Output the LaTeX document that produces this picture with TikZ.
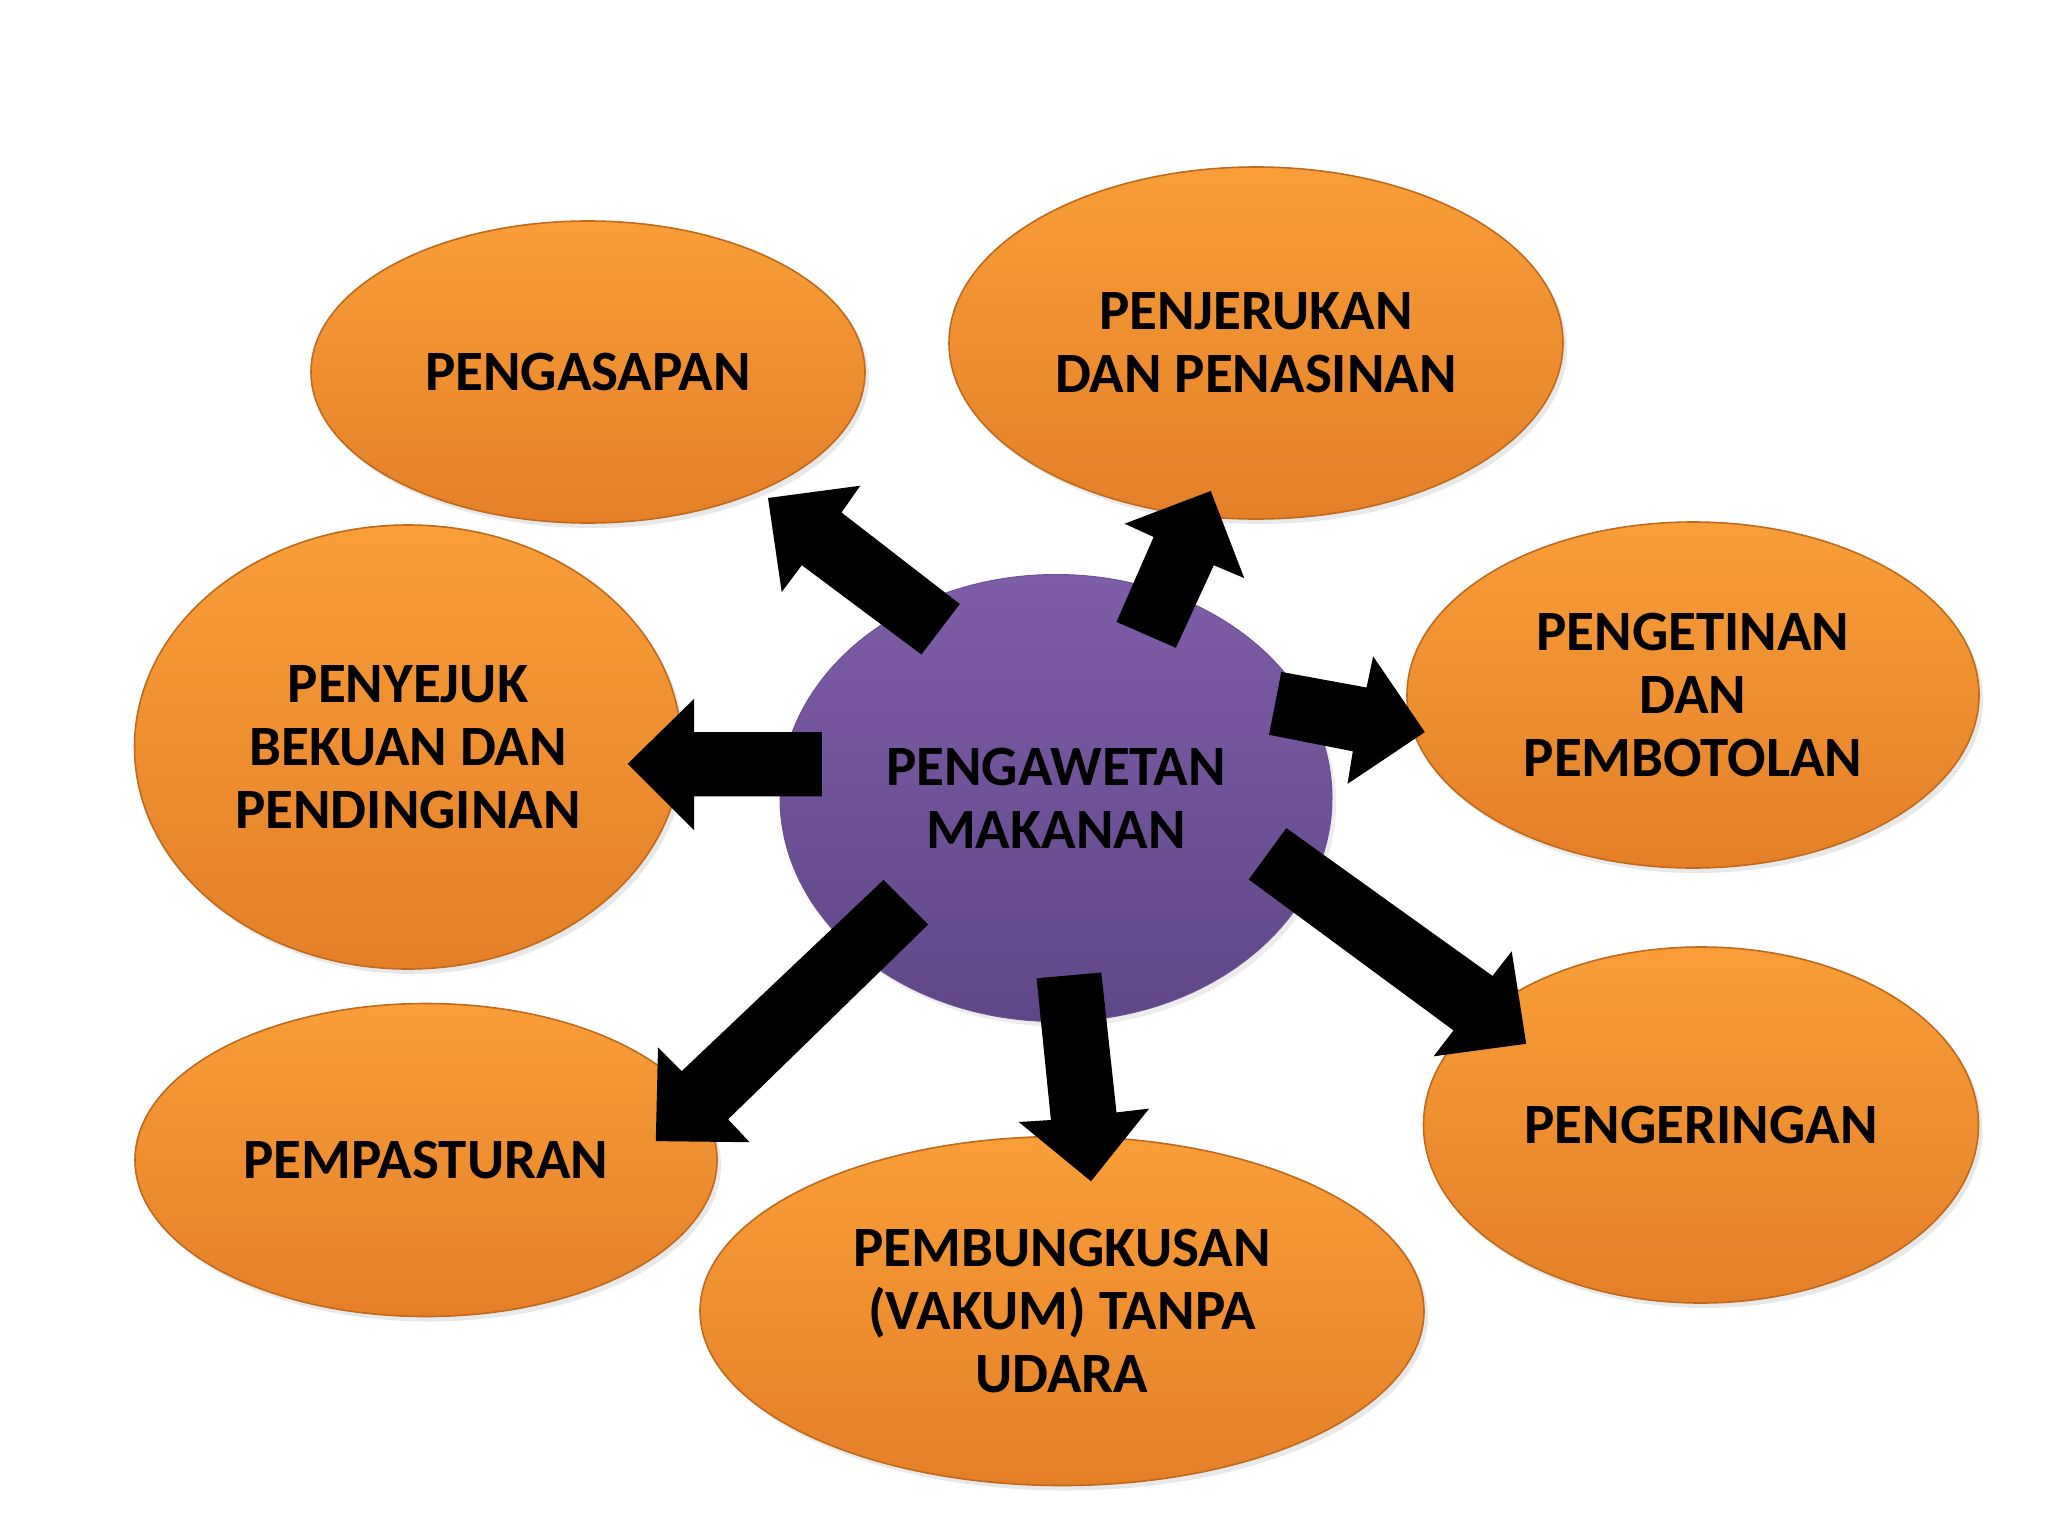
\documentclass[tikz,border=0pt]{standalone}
\usepackage{fontspec}
\setmainfont{Carlito}
\usetikzlibrary{shapes.geometric,shadows}
\definecolor{orTop}{HTML}{F99E38}
\definecolor{orBot}{HTML}{E47F28}
\definecolor{orEdge}{HTML}{C06A1E}
\definecolor{puTop}{HTML}{7F5DA8}
\definecolor{puBot}{HTML}{5E4787}
\definecolor{puEdge}{HTML}{6A5296}
\tikzset{
  blob/.style={ellipse, inner sep=0pt, top color=orTop, bottom color=orBot, draw=orEdge, line width=1.6pt,
    align=center, font=\fontsize{57}{63}\selectfont\bfseries,
    drop shadow={opacity=0.18, shadow xshift=4pt, shadow yshift=-5pt}},
  hub/.style={ellipse, inner sep=0pt, top color=puTop, bottom color=puBot, draw=puEdge, line width=1pt,
    align=center, font=\fontsize{57}{63}\selectfont\bfseries,
    drop shadow={opacity=0.15, shadow xshift=4pt, shadow yshift=-5pt}},
  blockarrow/.style={fill=black, draw=none}
}
\begin{document}
\begin{tikzpicture}[x=1pt,y=-1pt]
\useasboundingbox (0,0) rectangle (2048,1536);
\fill[white] (0,0) rectangle (2048,1536);

\node[blob, minimum width=554, minimum height=302] (asap) at (588,372) {PENGASAPAN};
\node[blob, minimum width=614, minimum height=352] (jeruk) at (1256,343) {PENJERUKAN\\DAN PENASINAN};
\node[blob, minimum width=572, minimum height=346] (tin) at (1693,695) {PENGETINAN\\DAN\\PEMBOTOLAN};
\node[blob, minimum width=555, minimum height=356] (kering) at (1701,1125) {PENGERINGAN};
\node[blob, minimum width=724, minimum height=349] (bungkus) at (1062,1311) {PEMBUNGKUSAN\\(VAKUM) TANPA\\UDARA};
\node[blob, minimum width=582, minimum height=313] (pastur) at (426,1160) {PEMPASTURAN};
\node[blob, minimum width=547, minimum height=444] (sejuk) at (408,747) {PENYEJUK\\BEKUAN DAN\\PENDINGINAN};
\node[hub, minimum width=552, minimum height=447] (awet) at (1056,798) {PENGAWETAN\\MAKANAN};

% block arrows
\fill[blockarrow] (959.8,604) -- (841.5,512.5) -- (860.3,485.7) -- (768,498) -- (781.7,592) -- (801.8,565.2) -- (921.4,654.5) -- cycle;
\fill[blockarrow] (1116.5,621.9) -- (1153.6,537) -- (1124.6,523.7) -- (1210.7,491) -- (1244.2,578.1) -- (1213.8,565.2) -- (1175.9,647.8) -- cycle;
\fill[blockarrow] (1281.3,671.9) -- (1366.6,687.5) -- (1373.1,656.3) -- (1424.8,732.1) -- (1347.5,783.9) -- (1352.8,751.3) -- (1269,734.8) -- cycle;
\fill[blockarrow] (1286.3,828.1) -- (1492.5,975.9) -- (1511.7,951.3) -- (1526.2,1043.8) -- (1433.6,1056.3) -- (1453.5,1030.4) -- (1248.8,879.5) -- cycle;
\fill[blockarrow] (1101.3,972.5) -- (1116.5,1112.4) -- (1149.1,1108.6) -- (1091,1181.3) -- (1018.8,1122) -- (1050.9,1120) -- (1036.6,978.3) -- cycle;
\fill[blockarrow] (928.1,924.6) -- (728.1,1119.3) -- (749.6,1142.2) -- (655.8,1141.1) -- (658,1047.3) -- (681.7,1071.1) -- (883.5,879.9) -- cycle;
\fill[blockarrow] (821.9,732.1) -- (694.2,732.1) -- (694.2,698.7) -- (627.7,763.8) -- (694.2,830.4) -- (694.2,796.4) -- (821.9,796.4) -- cycle;
\end{tikzpicture}
\end{document}
